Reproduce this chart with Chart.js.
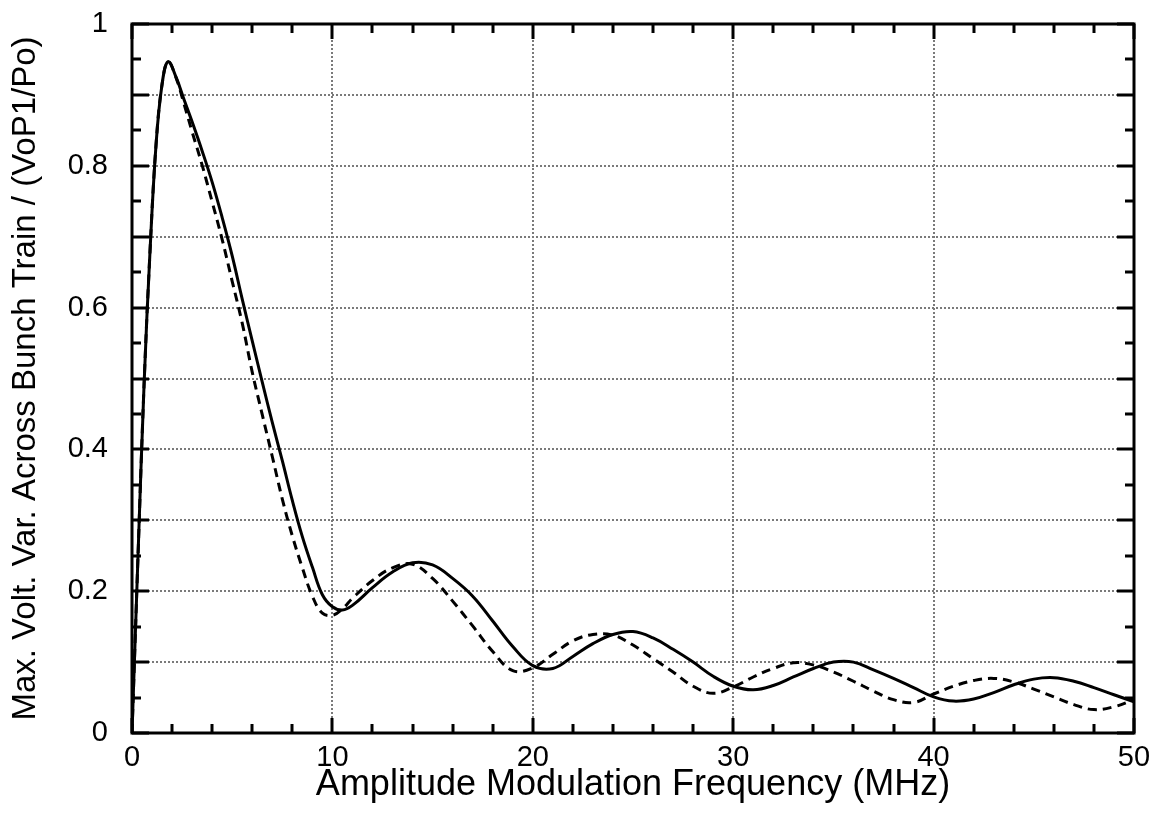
<!DOCTYPE html>
<html>
<head>
<meta charset="utf-8">
<script src="https://cdn.jsdelivr.net/npm/chart.js@4/dist/chart.umd.min.js"></script>
<style>
  html, body { margin: 0; padding: 0; background: #fff; }
  #wrap { width: 1162px; height: 830px; }
</style>
</head>
<body>
<div id="wrap"><canvas id="myChart"></canvas></div>
<script>
// frequency (MHz)
const freq = [0, 0.3, 0.6, 0.9, 1.2, 1.5, 1.8, 2.2, 2.6, 3, 3.5, 4, 4.5, 5, 5.5, 6, 6.5, 7, 7.5, 8, 8.5, 9, 9.5, 10, 10.5,
    11, 12, 13, 14, 15, 16, 17, 18, 19, 20, 21, 22, 23, 24, 25, 26, 27, 28, 29, 30,
    31, 32, 33, 34, 35, 36, 37, 38, 39, 40, 41, 42, 43, 44, 45, 46, 47, 48, 49, 50];

// solid curve
const solidVals = [0, 0.25, 0.49, 0.68, 0.83, 0.915, 0.947, 0.925, 0.893, 0.862, 0.821, 0.777, 0.727, 0.673, 0.612, 0.553, 0.495, 0.438, 0.384, 0.328, 0.277, 0.234, 0.195, 0.178, 0.1735,
    0.18, 0.205, 0.227, 0.24, 0.237, 0.218, 0.193, 0.158, 0.122, 0.095, 0.091, 0.108, 0.126, 0.139, 0.143, 0.134, 0.118, 0.1, 0.08, 0.066,
    0.061, 0.067, 0.079, 0.091, 0.1, 0.1, 0.089, 0.077, 0.064, 0.051, 0.045, 0.048, 0.057, 0.068, 0.076, 0.078, 0.073, 0.064, 0.054, 0.044];

// dashed curve
const dashedVals = [0, 0.25, 0.49, 0.68, 0.83, 0.915, 0.947, 0.924, 0.887, 0.848, 0.801, 0.749, 0.696, 0.637, 0.578, 0.509, 0.449, 0.39, 0.33, 0.278, 0.233, 0.193, 0.169, 0.166, 0.175,
    0.19, 0.215, 0.233, 0.238, 0.218, 0.186, 0.151, 0.115, 0.088, 0.092, 0.111, 0.13, 0.139, 0.138, 0.124, 0.105, 0.086, 0.066, 0.056, 0.065,
    0.079, 0.091, 0.099, 0.096, 0.086, 0.073, 0.059, 0.047, 0.043, 0.055, 0.066, 0.074, 0.077, 0.072, 0.062, 0.051, 0.04, 0.033, 0.037, 0.047];

const xTicks = [0, 10, 20, 30, 40, 50];
const yLabels = ["0", "0.2", "0.4", "0.6", "0.8", "1"];

const FONT = "'Liberation Sans', Arial, Helvetica, sans-serif";
const GRID = "#7a7a7a";

// box + inward ticks on all four sides
const frameTicks = {
    id: "frameTicks",
    afterDraw(chart) {
        const ctx = chart.ctx;
        const a = chart.chartArea;
        const xs = chart.scales.x, ys = chart.scales.y;
        ctx.save();
        ctx.strokeStyle = "#000";
        ctx.lineWidth = 3;
        ctx.lineCap = "butt";
        ctx.beginPath();
        for (let v = 0; v <= 50; v += 2) {
            const px = Math.round(xs.getPixelForValue(v));
            const len = v % 10 === 0 ? 15 : 9;
            ctx.moveTo(px, a.bottom); ctx.lineTo(px, a.bottom - len);
            ctx.moveTo(px, a.top); ctx.lineTo(px, a.top + len);
        }
        for (let i = 0; i <= 20; i++) {
            const py = Math.round(ys.getPixelForValue(i * 0.05));
            const len = i % 2 === 0 ? 17 : 9;
            ctx.moveTo(a.left, py); ctx.lineTo(a.left + len, py);
            ctx.moveTo(a.right, py); ctx.lineTo(a.right - len, py);
        }
        ctx.stroke();
        ctx.strokeRect(a.left, a.top, a.right - a.left, a.bottom - a.top);
        ctx.restore();
    }
};

document.addEventListener("DOMContentLoaded", function () {
    const ctx = document.getElementById("myChart").getContext("2d");

    new Chart(ctx, {
        type: "line",
        data: {
            datasets: [
                {
                    label: "solid",
                    data: freq.map((f, i) => ({ x: f, y: solidVals[i] })),
                    borderColor: "#000",
                    borderWidth: 3,
                    pointRadius: 0,
                    fill: false,
                    tension: 0.4,
                },
                {
                    label: "dashed",
                    data: freq.map((f, i) => ({ x: f, y: dashedVals[i] })),
                    borderColor: "#000",
                    borderWidth: 3,
                    borderDash: [9, 6],
                    pointRadius: 0,
                    fill: false,
                    tension: 0.4,
                },
            ],
        },
        options: {
            responsive: true,
            maintainAspectRatio: false,
            animation: false,
            layout: { padding: { top: 24, right: 28, left: 0, bottom: 0 } },
            plugins: {
                legend: { display: false },
                tooltip: { enabled: false },
            },
            scales: {
                x: {
                    type: "linear",
                    min: 0,
                    max: 50,
                    afterBuildTicks: (s) => { s.ticks = xTicks.map(v => ({ value: v })); },
                    afterFit: (s) => { s.height = 97; },
                    grid: {
                        color: (c) => (c.tick && (c.tick.value === 0 || c.tick.value === 50)) ? "rgba(0,0,0,0)" : GRID,
                        lineWidth: 2,
                        drawTicks: false,
                    },
                    border: { display: false, dash: [2, 2] },
                    ticks: {
                        color: "#000",
                        font: { family: FONT, size: 29 },
                        padding: 8,
                        maxRotation: 0,
                    },
                    title: {
                        display: true,
                        text: "Amplitude Modulation Frequency (MHz)",
                        color: "#000",
                        font: { family: FONT, size: 36 },
                        padding: { top: 0, bottom: 23 },
                    },
                },
                y: {
                    type: "linear",
                    min: 0,
                    max: 1,
                    afterFit: (s) => { s.width = 132; s.paddingTop = 0; s.paddingBottom = 0; },
                    ticks: {
                        stepSize: 0.1,
                        color: "#000",
                        font: { family: FONT, size: 29 },
                        padding: 24,
                        callback: (v) => {
                            const k = Math.round(v * 10);
                            return k % 2 === 0 ? yLabels[k / 2] : "";
                        },
                    },
                    grid: {
                        color: (c) => (c.tick && (c.index === 0 || c.index === 10)) ? "rgba(0,0,0,0)" : GRID,
                        lineWidth: 2,
                        drawTicks: false,
                    },
                    border: { display: false, dash: [2, 2] },
                    title: {
                        display: true,
                        text: "Max. Volt. Var. Across Bunch Train / (VoP1/Po)",
                        color: "#000",
                        font: { family: FONT, size: 33 },
                        padding: { top: 6, bottom: 0 },
                    },
                },
            },
        },
        plugins: [frameTicks],
    });
});
</script>
</body>
</html>
